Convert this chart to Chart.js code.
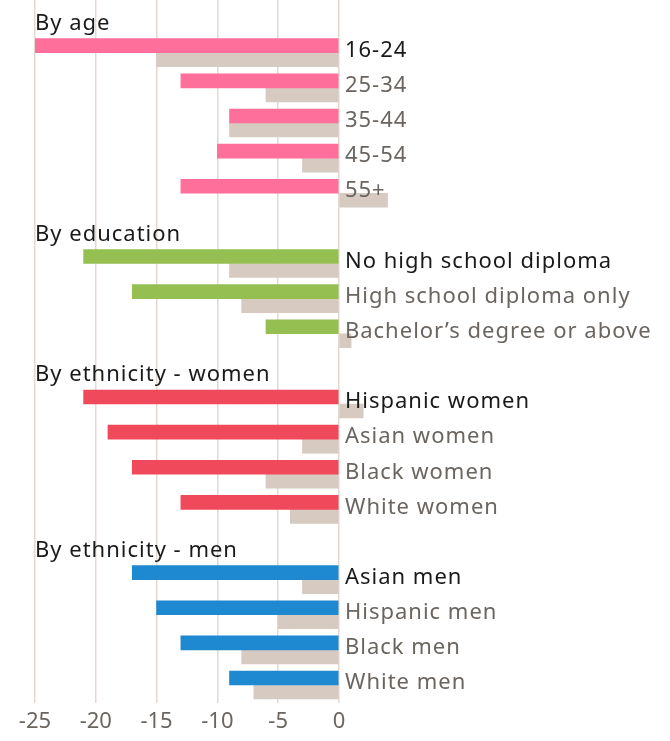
<!DOCTYPE html>
<html>
<head>
<meta charset="utf-8">
<script src="https://cdn.jsdelivr.net/npm/chart.js@4"></script>
<style>
  html, body { margin: 0; padding: 0; background: #fff; }
  #wrap { width: 670px; height: 741px; }
</style>
</head>
<body>
<div id="wrap"><canvas id="chart" width="670" height="741"></canvas></div>
<script>
// Data
const groupTitles = ['By age', 'By education', 'By ethnicity - women', 'By ethnicity - men'];

const ageLabels = ['16-24', '25-34', '35-44', '45-54', '55+'];
const ageLatest = [-25, -13, -9, -10, -13];
const agePrior  = [-15, -6, -9, -3, 4];

const eduLabels = ['No high school diploma', 'High school diploma only', 'Bachelor\u2019s degree or above'];
const eduLatest = [-21, -17, -6];
const eduPrior  = [-9, -8, 1];

const womenLabels = ['Hispanic women', 'Asian women', 'Black women', 'White women'];
const womenLatest = [-21, -19, -17, -13];
const womenPrior  = [2, -3, -6, -4];

const menLabels = ['Asian men', 'Hispanic men', 'Black men', 'White men'];
const menLatest = [-17, -15, -13, -9];
const menPrior  = [-3, -5, -8, -7];

const xTicks = [-25, -20, -15, -10, -5, 0];

const groupColors = ['#ff6f9c', '#96bf52', '#f0495c', '#1e88d0'];
const priorColor = '#d6cac1';

// build rows: a header row followed by its categories
const groups = [
  [ageLabels, ageLatest, agePrior],
  [eduLabels, eduLatest, eduPrior],
  [womenLabels, womenLatest, womenPrior],
  [menLabels, menLatest, menPrior]
];
const rows = [], latest = [], prior = [], latestColors = [], rowType = [];
groups.forEach((g, gi) => {
  rows.push(groupTitles[gi]); latest.push(null); prior.push(null);
  latestColors.push(groupColors[gi]); rowType.push('head');
  g[0].forEach((lab, i) => {
    rows.push(lab);
    latest.push(g[1][i]);
    prior.push(g[2][i]);
    latestColors.push(groupColors[gi]);
    rowType.push(i === 0 ? 'first' : 'rest');
  });
});

const FONT = '"Noto Sans", sans-serif';

// row labels and group titles drawn next to the zero line
const rowText = {
  id: 'rowText',
  afterDatasetsDraw(chart) {
    const ctx = chart.ctx, ys = chart.scales.y, xs = chart.scales.x;
    const zero = xs.getPixelForValue(0);
    ctx.save();
    ctx.font = '22px ' + FONT;
    ctx.letterSpacing = '1px';
    ctx.textBaseline = 'middle';
    ctx.textAlign = 'left';
    rows.forEach((lab, i) => {
      const y = ys.getPixelForValue(i);
      if (rowType[i] === 'head') {
        ctx.fillStyle = '#1a1a1a';
        ctx.fillText(lab, chart.chartArea.left, y + 6);
      } else {
        ctx.fillStyle = rowType[i] === 'first' ? '#1a1a1a' : '#6b6560';
        ctx.fillText(lab, zero + 6, y - 2);
      }
    });
    ctx.restore();
  }
};

new Chart(document.getElementById('chart'), {
  type: 'bar',
  data: {
    labels: rows,
    datasets: [
      { label: 'Latest', data: latest, backgroundColor: latestColors, barThickness: 14 },
      { label: 'Prior', data: prior, backgroundColor: priorColor, barThickness: 14 }
    ]
  },
  options: {
    indexAxis: 'y',
    responsive: false,
    animation: false,
    layout: { padding: { left: 35, right: 15, top: -8, bottom: 0 } },
    plugins: { legend: { display: false }, tooltip: { enabled: false } },
    scales: {
      y: { display: false },
      x: {
        min: -25, max: 26,
        afterBuildTicks(scale) {
          scale.ticks = xTicks.map(v => ({ value: v }));
        },
        border: { display: false },
        grid: { color: '#e3d9cf', lineWidth: 1.5, drawTicks: false },
        ticks: { color: '#6b6560', font: { family: FONT, size: 22 }, padding: 6 }
      }
    }
  },
  plugins: [rowText]
});
</script>
</body>
</html>
